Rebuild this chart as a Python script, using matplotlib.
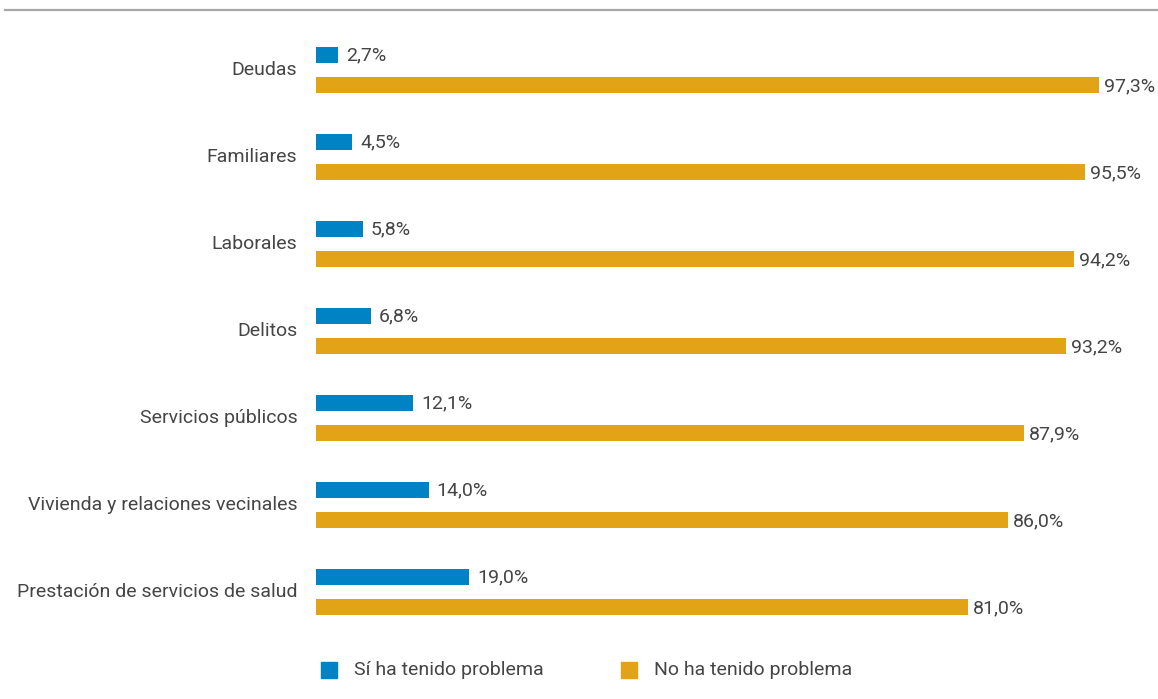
import numpy as np
import matplotlib
matplotlib.use('Agg')
import matplotlib.pyplot as plt
from matplotlib.patches import Rectangle
from matplotlib.lines import Line2D

categories = ['Deudas', 'Familiares', 'Laborales', 'Delitos', 'Servicios públicos',
              'Vivienda y relaciones vecinales', 'Prestación de servicios de salud']
si_problema = [2.7, 4.5, 5.8, 6.8, 12.1, 14.0, 19.0]
no_problema = [97.3, 95.5, 94.2, 93.2, 87.9, 86.0, 81.0]
series_labels = ['Sí ha tenido problema', 'No ha tenido problema']

BLUE = '#0083C4'
GOLD = '#E3A316'
TEXT = '#454545'

plt.rcParams['font.family'] = ['Roboto', 'DejaVu Sans']

W, H = 1158, 699
fig = plt.figure(figsize=(W / 100, H / 100), dpi=100)

# axes placed in pixel terms: x=0 at 316px, 100% at 1121px; rows from y=30 to 630px
ax = fig.add_axes([316 / W, (H - 630) / H, 805 / W, 600 / H])
ax.set_xlim(0, 100)
ax.set_ylim(6.437, -0.46)
ax.axis('off')

y = np.arange(len(categories))
off = 0.172
h = 0.184
ax.barh(y - off, si_problema, height=h, color=BLUE)
ax.barh(y + off, no_problema, height=h, color=GOLD)

fmt = lambda v: '{:.1f}%'.format(v).replace('.', ',')
for i in range(len(categories)):
    ax.text(si_problema[i] + 1.0, y[i] - off, fmt(si_problema[i]), va='center', ha='left',
            fontsize=14, color=TEXT)
    ax.text(no_problema[i] + 0.6, y[i] + off + 0.02, fmt(no_problema[i]), va='center', ha='left',
            fontsize=14, color=TEXT)
    ax.text(-2.3, y[i], categories[i], va='center', ha='right', fontsize=14, color=TEXT)

# top rule
fig.add_artist(Line2D([5 / W, 1], [1 - 10 / H, 1 - 10 / H], color='#A8A8A8', lw=1.6))

# legend
for x0, col, lab in [(321, BLUE, series_labels[0]), (621, GOLD, series_labels[1])]:
    fig.add_artist(Rectangle((x0 / W, 1 - 678 / H), 16 / W, 16 / H, color=col,
                             transform=fig.transFigure))
    fig.text((x0 + 33) / W, 1 - 670 / H, lab, va='center', ha='left', fontsize=14, color=TEXT)

fig.savefig('out.png', dpi=100)
